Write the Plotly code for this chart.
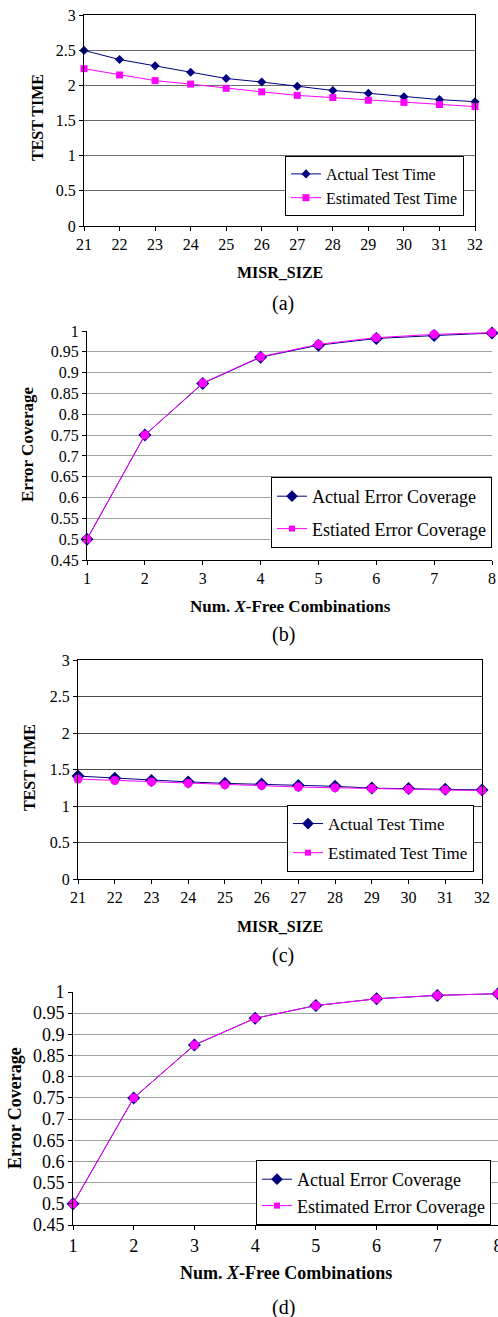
import plotly.graph_objects as go

# ---------------- data ----------------
misr_size = [21, 22, 23, 24, 25, 26, 27, 28, 29, 30, 31, 32]
actual_a = [2.50, 2.37, 2.28, 2.19, 2.10, 2.05, 1.99, 1.93, 1.89, 1.84, 1.80, 1.77]
est_a = [2.24, 2.15, 2.07, 2.02, 1.96, 1.91, 1.86, 1.83, 1.79, 1.76, 1.73, 1.70]

num_xfree = [1, 2, 3, 4, 5, 6, 7, 8]
actual_b = [0.500, 0.750, 0.874, 0.937, 0.966, 0.982, 0.989, 0.995]
est_b = [0.500, 0.750, 0.875, 0.938, 0.968, 0.984, 0.992, 0.996]

actual_c = [1.41, 1.38, 1.35, 1.33, 1.31, 1.30, 1.28, 1.27, 1.245, 1.24, 1.23, 1.22]
est_c = [1.37, 1.35, 1.33, 1.31, 1.29, 1.28, 1.26, 1.25, 1.24, 1.23, 1.22, 1.21]

actual_d = [0.500, 0.750, 0.875, 0.938, 0.968, 0.984, 0.992, 0.996]
est_d = [0.500, 0.750, 0.875, 0.938, 0.968, 0.984, 0.992, 0.996]

names_tt = ["Actual Test Time", "Estimated Test Time"]
names_b = ["Actual Error Coverage", "Estiated Error Coverage"]
names_d = ["Actual Error Coverage", "Estimated Error Coverage"]
captions = ["(a)", "(b)", "(c)", "(d)"]

# ---------------- layout helpers ----------------
W, H = 498, 1317
FONT = "Liberation Serif, Times New Roman, serif"
NAVY = "#000080"
MAG = "#FF00FF"

def fx(px):
    return px / W

def fy(px):
    return 1 - px / H

fig = go.Figure()

panels = [
    dict(x=misr_size, a=actual_a, e=est_a, names=names_tt, box=(84, 475, 15.3, 226),
         yr=[0, 3], dt=0.5, mirror=True, grid="#6a6a6a", ms_a=7, ms_e=7, est_sym="square",
         leg=(285, 156), gap=0, lfs=16, tfs=16, ttl=16, ytitle="TEST TIME", ytpos=(37, 118),
         xtitle="MISR_SIZE", xtpos=(280, 272), cap=(283, 303)),
    dict(x=num_xfree, a=actual_b, e=est_b, names=names_b, box=(87, 492, 331, 560),
         yr=[0.45, 1.0], dt=0.05, mirror=False, grid="#a0a0a0", ms_a=10, ms_e=9, est_sym="circle",
         leg=(271, 477), gap=6, lfs=18, tfs=16, ttl=17, ytitle="Error Coverage", ytpos=(28, 445),
         xtitle="Num. <i>X</i>-Free Combinations", xtpos=(290, 606), cap=(283, 634)),
    dict(x=misr_size, a=actual_c, e=est_c, names=names_tt, box=(78, 482, 660, 879),
         yr=[0, 3], dt=0.5, mirror=True, grid="#4a4a4a", ms_a=10, ms_e=9, est_sym="circle",
         leg=(287, 805), gap=4, lfs=17, tfs=16, ttl=16, ytitle="TEST TIME", ytpos=(29, 768),
         xtitle="MISR_SIZE", xtpos=(280, 926), cap=(283, 955)),
    dict(x=num_xfree, a=actual_d, e=est_d, names=names_d, box=(73, 498, 992, 1225),
         yr=[0.45, 1.0], dt=0.05, mirror=False, grid="#a0a0a0", ms_a=10, ms_e=9, est_sym="circle",
         leg=(256, 1160), gap=0, lfs=18, tfs=18, ttl=18, ytitle="Error Coverage", ytpos=(15, 1108),
         xtitle="Num. <i>X</i>-Free Combinations", xtpos=(286, 1273), cap=(283, 1307)),
]

annotations = []
for i, p in enumerate(panels, start=1):
    sfx = "" if i == 1 else str(i)
    xa, ya = "x" + sfx, "y" + sfx
    lg = "legend" + sfx
    xl, xr, yt, yb = p["box"]
    fig.add_trace(go.Scatter(
        x=p["x"], y=p["a"], name=p["names"][0], mode="lines+markers",
        line=dict(color=NAVY, width=1), marker=dict(symbol="diamond", size=p["ms_a"], color=NAVY),
        xaxis=xa, yaxis=ya, cliponaxis=False, showlegend=False))
    fig.add_trace(go.Scatter(
        x=p["x"], y=p["e"], name=p["names"][1], mode="lines+markers",
        line=dict(color=MAG, width=1), marker=dict(symbol=p["est_sym"], size=p["ms_e"], color=MAG),
        xaxis=xa, yaxis=ya, cliponaxis=False, showlegend=False))
    # legend entries
    fig.add_trace(go.Scatter(
        x=[None], y=[None], name=p["names"][0], mode="lines+markers",
        line=dict(color=NAVY, width=1), marker=dict(symbol="diamond", size=9 if i > 1 else 7, color=NAVY),
        xaxis=xa, yaxis=ya, legend=lg, legendgroup="a%d" % i, showlegend=True))
    fig.add_trace(go.Scatter(
        x=[None], y=[None], name=p["names"][1], mode="lines+markers",
        line=dict(color=MAG, width=1), marker=dict(symbol="square", size=6 if i > 1 else 7, color=MAG),
        xaxis=xa, yaxis=ya, legend=lg, legendgroup="e%d" % i, showlegend=True))

    fig.layout["xaxis" + sfx] = dict(
        domain=[fx(xl), min(1.0, fx(xr))], anchor=ya, range=[p["x"][0], p["x"][-1]],
        tickmode="array", tickvals=p["x"], ticks="outside", ticklen=4, tickcolor="black",
        showline=True, linecolor="black", linewidth=1, mirror=p["mirror"], showgrid=False,
        zeroline=False, automargin=False, ticklabeloverflow="allow",
        tickfont=dict(family=FONT, size=p["tfs"], color="black"), fixedrange=True)
    ticks = []
    v = p["yr"][0]
    while v <= p["yr"][1] + 1e-9:
        ticks.append(round(v, 2))
        v += p["dt"]
    fig.layout["yaxis" + sfx] = dict(
        domain=[fy(yb), fy(yt)], anchor=xa, range=p["yr"], tickmode="array", tickvals=ticks,
        ticks="outside", ticklen=4, tickcolor="black", showline=True, linecolor="black",
        linewidth=1, mirror=p["mirror"], showgrid=True, gridcolor=p["grid"], gridwidth=1,
        zeroline=False, automargin=False, ticklabeloverflow="allow",
        tickfont=dict(family=FONT, size=p["tfs"], color="black"), fixedrange=True)
    fig.layout[lg] = dict(
        x=fx(p["leg"][0]), y=fy(p["leg"][1]), xanchor="left", yanchor="top",
        bordercolor="black", borderwidth=1, bgcolor="white",
        font=dict(family=FONT, size=p["lfs"], color="black"), tracegroupgap=p["gap"],
        itemwidth=30)

    annotations.append(dict(text="<b>%s</b>" % p["ytitle"], x=fx(p["ytpos"][0]), y=fy(p["ytpos"][1]),
                            xref="paper", yref="paper", xanchor="center", yanchor="middle",
                            textangle=-90, showarrow=False,
                            font=dict(family=FONT, size=p["ttl"], color="black")))
    annotations.append(dict(text="<b>%s</b>" % p["xtitle"], x=fx(p["xtpos"][0]), y=fy(p["xtpos"][1]),
                            xref="paper", yref="paper", xanchor="center", yanchor="middle",
                            showarrow=False,
                            font=dict(family=FONT, size=p["ttl"], color="black")))
    annotations.append(dict(text=captions[i - 1], x=fx(p["cap"][0]), y=fy(p["cap"][1]),
                            xref="paper", yref="paper", xanchor="center", yanchor="middle",
                            showarrow=False,
                            font=dict(family=FONT, size=20, color="black")))

fig.update_layout(
    template="none",
    width=W, height=H, margin=dict(l=0, r=0, t=0, b=0, pad=0, autoexpand=False),
    paper_bgcolor="white", plot_bgcolor="white",
    font=dict(family=FONT, color="black"),
    annotations=annotations,
)

fig.write_html("out.html", config={"displayModeBar": False},
               post_script="document.body.style.margin='0';document.body.style.overflow='hidden';")
